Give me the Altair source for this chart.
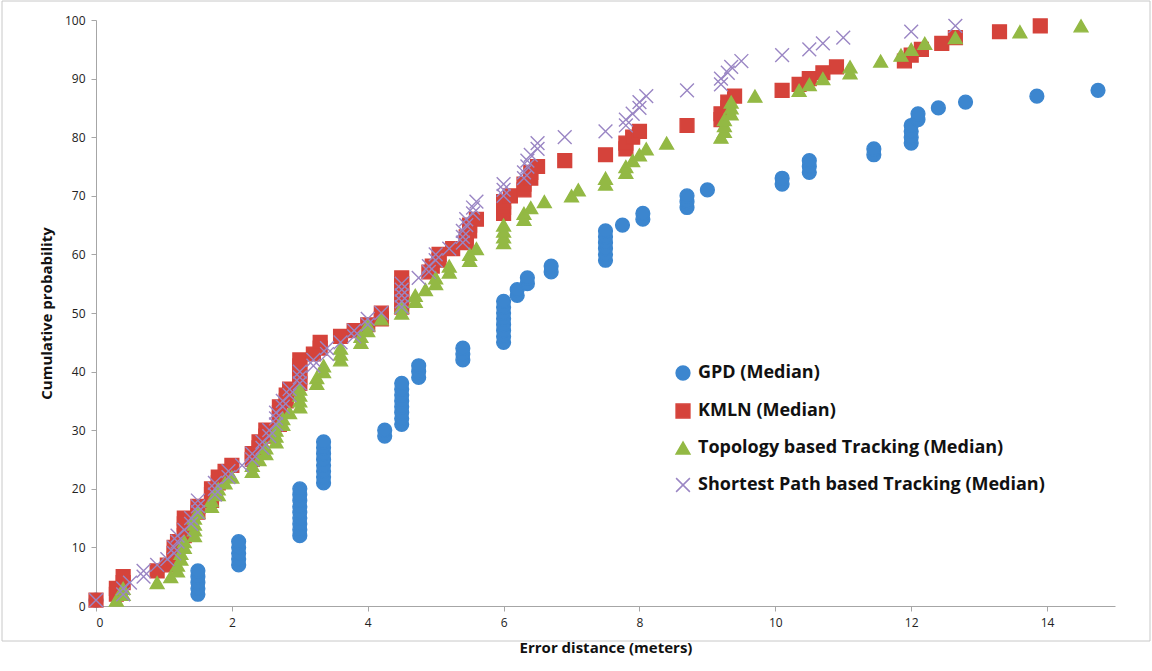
import altair as alt
import pandas as pd

# Error-distance CDFs: each group is (x, first percentile, last percentile);
# several percentiles share the same error distance and stack vertically.
gpd_x  = [0.0, 1.5, 2.1, 3.0, 3.35, 4.25, 4.5, 4.75, 5.4, 6.0, 6.2, 6.35, 6.7, 7.5, 7.75, 8.05, 8.7, 9.0, 10.1, 10.5, 11.45, 12.0, 12.1, 12.4, 12.8, 13.85, 14.75]
gpd_lo = [1, 2, 7, 12, 21, 29, 31, 39, 42, 45, 53, 55, 57, 59, 65, 66, 68, 71, 72, 74, 77, 79, 83, 85, 86, 87, 88]
gpd_hi = [1, 6, 11, 20, 28, 30, 38, 41, 44, 52, 54, 56, 58, 64, 65, 67, 70, 71, 73, 76, 78, 82, 84, 85, 86, 87, 88]

kmln_x  = [0.0, 0.3, 0.4, 0.9, 1.05, 1.15, 1.2, 1.3, 1.5, 1.7, 1.8, 1.9, 2.0, 2.3, 2.4, 2.5, 2.7, 2.8, 2.85, 3.0, 3.2, 3.3, 3.6, 3.8, 4.0, 4.2, 4.5, 4.9, 4.95, 5.05, 5.25, 5.45, 5.5, 5.6, 6.0, 6.1, 6.3, 6.4, 6.5, 6.9, 7.5, 7.8, 7.9, 8.0, 8.7, 9.2, 9.3, 9.4, 10.1, 10.35, 10.5, 10.7, 10.9, 11.9, 12.0, 12.15, 12.45, 12.65, 13.3, 13.9]
kmln_lo = [1, 2, 4, 6, 7, 8, 11, 12, 16, 18, 21, 23, 24, 25, 27, 29, 31, 35, 37, 38, 43, 44, 46, 47, 48, 49, 51, 57, 58, 59, 61, 62, 64, 66, 67, 70, 71, 73, 75, 76, 77, 78, 80, 81, 82, 83, 85, 87, 88, 89, 90, 91, 92, 93, 94, 95, 96, 97, 98, 99]
kmln_hi = [1, 3, 5, 6, 7, 10, 11, 15, 17, 20, 22, 23, 24, 26, 28, 30, 34, 36, 37, 42, 43, 45, 46, 47, 48, 50, 56, 57, 58, 60, 61, 63, 65, 66, 69, 70, 72, 74, 75, 76, 77, 79, 80, 81, 82, 84, 86, 87, 88, 89, 90, 91, 92, 93, 94, 95, 96, 97, 98, 99]

topo_x  = [0.3, 0.4, 0.9, 1.1, 1.2, 1.25, 1.3, 1.45, 1.5, 1.7, 1.8, 1.9, 2.0, 2.3, 2.4, 2.5, 2.65, 2.75, 2.85, 3.0, 3.25, 3.35, 3.6, 3.9, 4.0, 4.2, 4.5, 4.7, 4.85, 5.0, 5.2, 5.5, 5.6, 6.0, 6.3, 6.4, 6.6, 7.0, 7.1, 7.5, 7.8, 7.9, 8.0, 8.1, 8.4, 9.2, 9.25, 9.35, 9.7, 10.35, 10.5, 10.7, 11.1, 11.55, 11.85, 12.0, 12.2, 12.65, 13.6, 14.5]
topo_lo = [1, 2, 4, 5, 6, 8, 10, 12, 16, 17, 19, 21, 22, 23, 25, 26, 28, 31, 33, 34, 38, 40, 42, 45, 47, 49, 50, 52, 54, 55, 57, 59, 61, 62, 66, 68, 69, 70, 71, 72, 74, 76, 77, 78, 79, 80, 81, 84, 87, 88, 89, 90, 91, 93, 94, 95, 96, 97, 98, 99]
topo_hi = [1, 3, 4, 5, 7, 9, 11, 15, 16, 18, 20, 21, 22, 24, 25, 27, 30, 32, 33, 37, 39, 41, 44, 46, 48, 49, 51, 53, 54, 56, 58, 60, 61, 65, 67, 68, 69, 70, 71, 73, 75, 76, 77, 78, 79, 80, 83, 86, 87, 88, 89, 90, 92, 93, 94, 95, 96, 97, 98, 99]

path_x  = [0.0, 0.4, 0.5, 0.7, 0.9, 1.05, 1.15, 1.2, 1.3, 1.4, 1.5, 1.75, 1.95, 2.15, 2.3, 2.45, 2.55, 2.65, 2.75, 2.85, 3.0, 3.2, 3.4, 3.6, 3.8, 4.0, 4.2, 4.5, 4.75, 4.9, 5.0, 5.2, 5.4, 5.45, 5.55, 5.6, 6.0, 6.3, 6.35, 6.4, 6.5, 6.9, 7.5, 7.8, 7.9, 8.0, 8.1, 8.7, 9.2, 9.3, 9.35, 9.5, 10.1, 10.5, 10.7, 11.0, 12.0, 12.65]
path_lo = [1, 2, 4, 5, 7, 8, 9, 11, 13, 14, 16, 19, 22, 24, 25, 27, 29, 31, 34, 36, 38, 41, 43, 45, 46, 48, 50, 51, 56, 57, 59, 61, 62, 65, 67, 69, 70, 73, 75, 77, 78, 80, 81, 82, 84, 85, 87, 88, 89, 91, 92, 93, 94, 95, 96, 97, 98, 99]
path_hi = [1, 3, 4, 6, 7, 8, 10, 12, 13, 15, 18, 21, 23, 24, 26, 28, 30, 33, 35, 37, 40, 42, 44, 45, 47, 49, 50, 55, 56, 58, 60, 61, 64, 66, 68, 69, 72, 74, 76, 77, 79, 80, 81, 83, 84, 86, 87, 88, 90, 91, 92, 93, 94, 95, 96, 97, 98, 99]

series_names = [
    "GPD (Median)",
    "KMLN (Median)",
    "Topology based Tracking (Median)",
    "Shortest Path based Tracking (Median)",
]
series_groups = [
    (gpd_x, gpd_lo, gpd_hi),
    (kmln_x, kmln_lo, kmln_hi),
    (topo_x, topo_lo, topo_hi),
    (path_x, path_lo, path_hi),
]

rows = []
for rank, (name, (xs, los, his)) in enumerate(zip(series_names, series_groups)):
    for x, lo, hi in zip(xs, los, his):
        for p in range(lo, hi + 1):
            rows.append({"series": name, "rank": rank, "distance": x, "prob": p})
df = pd.DataFrame(rows)

colors = ["#3C86CF", "#D5433B", "#93B944", "#9A86C4"]
x_shape = "M-1,-1L1,1M-1,1L1,-1"
shapes = ["circle", "square", "triangle-up", x_shape]

color_scale = alt.Scale(domain=series_names, range=colors)
legend_cfg = alt.Legend(
    title=None,
    orient="none",
    legendX=578,
    legendY=344,
    labelFont="Open Sans",
    labelFontSize=18,
    labelFontWeight="bold",
    labelColor="#111111",
    symbolSize=190,
    symbolStrokeWidth=1.5,
    rowPadding=18,
    labelOffset=6,
    labelLimit=500,
)

points = alt.Chart(df).mark_point(filled=True, size=190, strokeWidth=1.4, opacity=1).encode(
    x=alt.X(
        "distance:Q",
        scale=alt.Scale(domain=[0, 15], nice=False),
        axis=alt.Axis(
            title="Error distance (meters)",
            values=[0, 2, 4, 6, 8, 10, 12, 14],
            grid=False,
            titlePadding=12,
        ),
    ),
    y=alt.Y(
        "prob:Q",
        scale=alt.Scale(domain=[0, 100], nice=False),
        axis=alt.Axis(
            title="Cumulative probability",
            values=list(range(0, 101, 10)),
            grid=False,
            titlePadding=10,
        ),
    ),
    color=alt.Color("series:N", scale=color_scale, sort=series_names, legend=legend_cfg),
    stroke=alt.Stroke("series:N", scale=color_scale, sort=series_names, legend=legend_cfg),
    shape=alt.Shape(
        "series:N",
        scale=alt.Scale(domain=series_names, range=shapes),
        sort=series_names,
        legend=legend_cfg,
    ),
    order=alt.Order("rank:Q"),
)

# light outer frame around the whole figure
frame = alt.Chart(pd.DataFrame({"k": [0]})).mark_rect(
    fill=None, stroke="#C8C8C8", strokeWidth=1
).encode(
    x=alt.value(-94), x2=alt.value(1054), y=alt.value(-19), y2=alt.value(621)
)

chart = alt.layer(frame, points).properties(
    width=1019,
    height=586,
    autosize=alt.AutoSizeParams(type="none"),
    padding={"left": 96, "top": 20, "right": 37, "bottom": 65},
    background="white",
).configure_view(
    stroke=None
).configure_axis(
    grid=False,
    domainColor="#A6A6A6",
    tickColor="#A6A6A6",
    tickSize=5,
    labelFont="Open Sans",
    labelFontSize=12,
    labelColor="#222222",
    titleFont="Open Sans",
    titleFontSize=15,
    titleFontWeight="bold",
    titleColor="#111111",
    labelPadding=6,
)

chart.save("out.html", embed_options={"renderer": "svg", "actions": False})
